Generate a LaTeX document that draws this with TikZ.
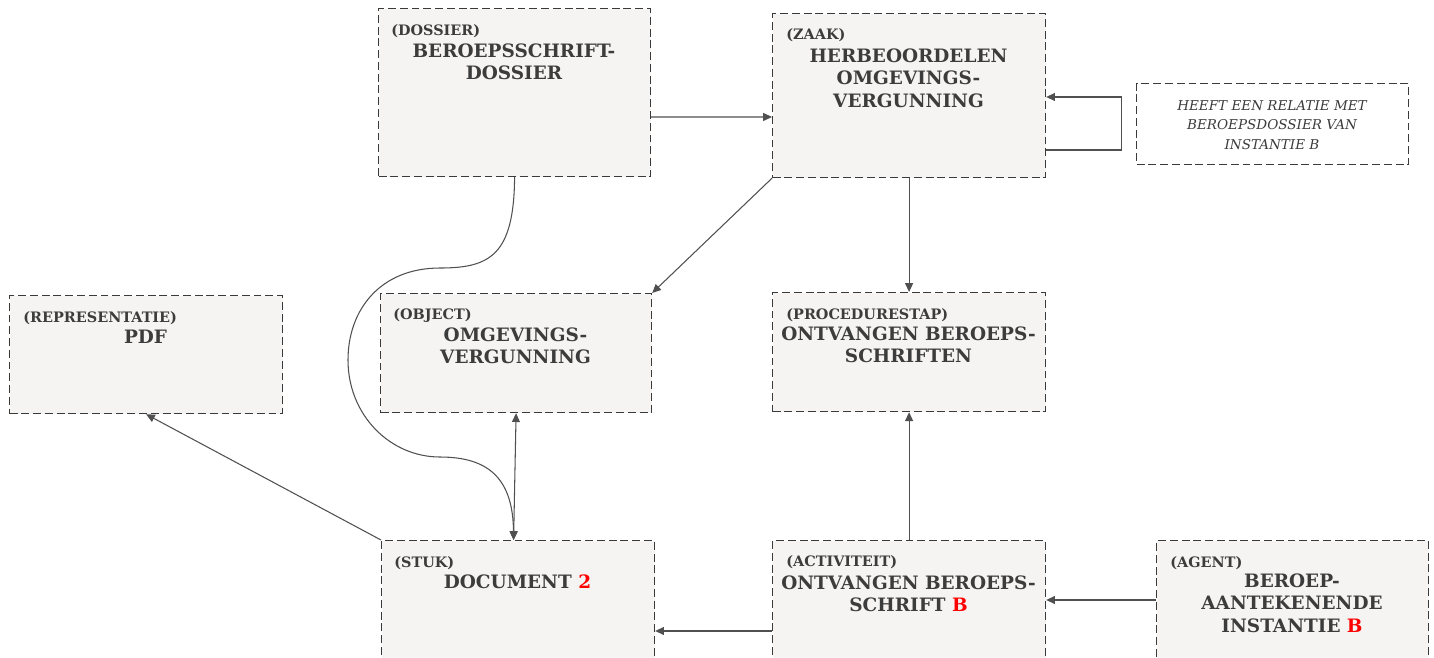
\documentclass[tikz,border=0pt]{standalone}
\usepackage{fontspec}
\setmainfont{DejaVu Serif}
\usetikzlibrary{arrows.meta}
\definecolor{boxfill}{HTML}{F5F4F2}
\definecolor{boxline}{HTML}{3A3A3A}
\definecolor{txt}{HTML}{3C3C3C}
\definecolor{conngray}{HTML}{505050}
\tikzset{
  box/.style={draw=boxline, fill=boxfill, dash pattern=on 4.5pt off 2.2pt, line width=0.7pt, inner sep=0pt, anchor=north west},
  kind/.style={font=\bfseries\fontsize{8.2}{10}\selectfont, text=txt, anchor=base west, inner sep=0pt},
  title/.style={font=\bfseries\fontsize{10.5}{12.8}\selectfont, text=txt, align=center, anchor=base, inner sep=0pt},
  note/.style={font=\itshape\fontsize{7.7}{11}\selectfont, text=txt, align=center, anchor=base, inner sep=0pt},
  conn/.style={draw=conngray, line width=0.6pt}
}
\begin{document}
\begin{tikzpicture}[x=0.02cm, y=-0.02cm, >={Triangle[length=5pt,width=4.5pt]}]
\useasboundingbox (0,0) rectangle (1434,657);
\clip (0,0) rectangle (1434,657);
\fill[white] (0,0) rectangle (1434,657);

% boxes, with the base of the last title line as position
\node[box, minimum width=5.44cm, minimum height=3.36cm] (dossier) at (378,8) {};
\node[kind] (dossierkind) at (391,35) {(DOSSIER)};
\node[title] (dossiertitle) at (514,79.5) {BEROEPSSCHRIFT-\\DOSSIER};

\node[box, minimum width=5.46cm, minimum height=3.28cm] (zaak) at (772,13) {};
\node[kind] (zaakkind) at (786,39) {(ZAAK)};
\node[title] (zaaktitle) at (908.5,107) {HERBEOORDELEN\\OMGEVINGS-\\VERGUNNING};

\node[box, fill=white, minimum width=5.44cm, minimum height=1.62cm] (relatie) at (1136,83) {};
\node[note] (relatietext) at (1272,149) {HEEFT EEN RELATIE MET\\BEROEPSDOSSIER VAN\\INSTANTIE B};

\node[box, minimum width=5.46cm, minimum height=2.36cm] (repr) at (9,295) {};
\node[kind] (reprkind) at (23,322) {(REPRESENTATIE)};
\node[title] (reprtitle) at (145.5,343) {PDF};

\node[box, minimum width=5.42cm, minimum height=2.38cm] (object) at (380,293) {};
\node[kind] (objectkind) at (393,319) {(OBJECT)};
\node[title] (objecttitle) at (515.5,363.5) {OMGEVINGS-\\VERGUNNING};

\node[box, minimum width=5.46cm, minimum height=2.38cm] (proc) at (772,292) {};
\node[kind] (prockind) at (786,319) {(PROCEDURESTAP)};
\node[title] (proctitle) at (908.5,362.5) {ONTVANGEN BEROEPS-\\SCHRIFTEN};

\node[box, minimum width=5.46cm, minimum height=3.2cm] (stuk) at (381,540) {};
\node[kind] (stukkind) at (394,567) {(STUK)};
\node[title] (stuktitle) at (517.5,588) {DOCUMENT \textcolor{red}{2}};

\node[box, minimum width=5.46cm, minimum height=3.2cm] (activ) at (772,540) {};
\node[kind] (activkind) at (786,566) {(ACTIVITEIT)};
\node[title] (activtitle) at (908.5,611.5) {ONTVANGEN BEROEPS-\\SCHRIFT \textcolor{red}{B}};

\node[box, minimum width=5.44cm, minimum height=3.2cm] (agent) at (1156,540) {};
\node[kind] (agentkind) at (1170,567) {(AGENT)};
\node[title] (agenttitle) at (1292,632) {BEROEP-\\AANTEKENENDE\\INSTANTIE \textcolor{red}{B}};

% connectors
\draw[conn,->] ([yshift=-2.18cm]dossier.north east) -- ([yshift=-2.08cm]zaak.north west);
\draw[conn,->] ([yshift=-2.74cm]zaak.north east) -- ++(75,0) |- ([yshift=-1.68cm]zaak.north east);
\draw[conn,->] (zaak.south west) -- (object.north east);
\draw[conn,->] (zaak.south) -- (proc.south |- proc.north);
\draw[conn,->] (dossier.south) .. controls (514,255) and (490,268) .. (440,268)
  .. controls (380,268) and (348,310) .. (348,360)
  .. controls (348,415) and (390,457) .. (440,457)
  .. controls (490,457) and (513,480) .. ([xshift=-0.09cm]stuk.north);
\draw[conn,<->] (object.south) -- ([xshift=-0.09cm]stuk.north);
\draw[conn,->] (stuk.north west) -- (repr.south);
\draw[conn,->] (activ.north) -- (proc.south);
\draw[conn,->] ([yshift=-1.82cm]activ.north west) -- ([yshift=-1.82cm]stuk.north east);
\draw[conn,->] ([yshift=-1.2cm]agent.north west) -- ([yshift=-1.2cm]activ.north east);
\end{tikzpicture}
\end{document}
